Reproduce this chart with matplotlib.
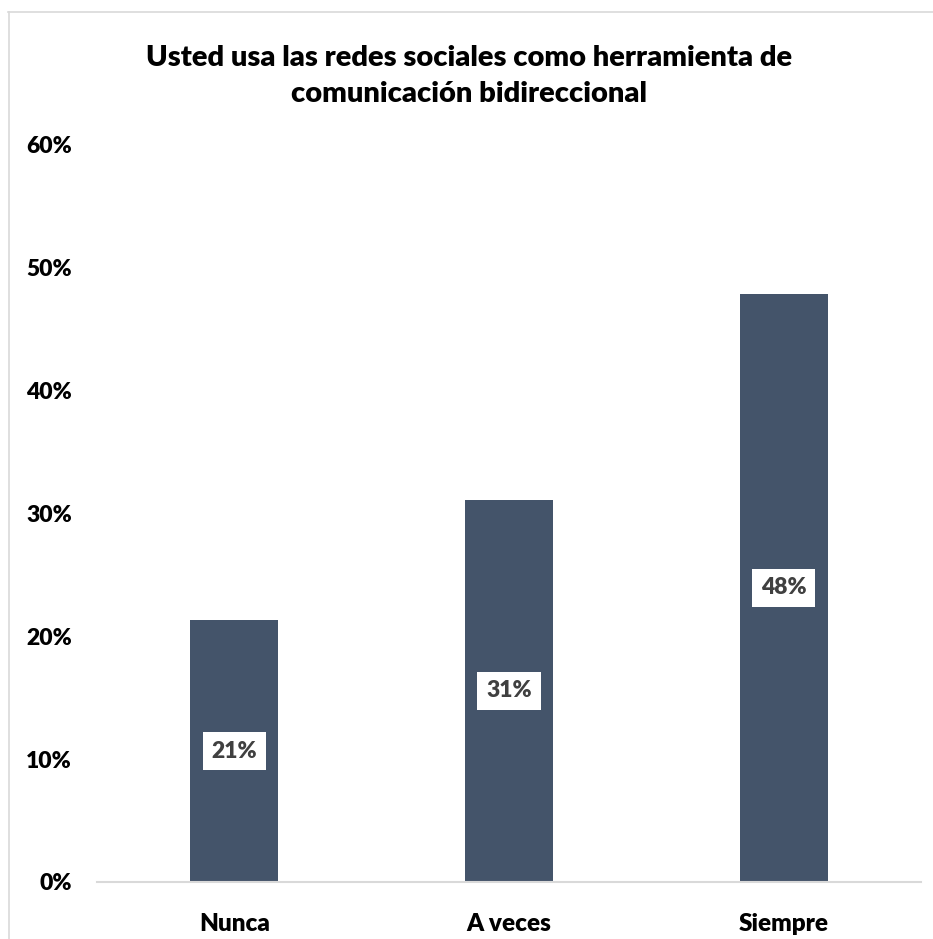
import matplotlib
matplotlib.use("Agg")
import matplotlib.pyplot as plt
from matplotlib.lines import Line2D
from matplotlib.ticker import FuncFormatter

categories = ["Nunca", "A veces", "Siempre"]
values = [21.3, 31.1, 47.9]
labels = ["21%", "31%", "48%"]
yticks = [0, 10, 20, 30, 40, 50, 60]
title = "Usted usa las redes sociales como herramienta de\ncomunicación bidireccional"

plt.rcParams['font.family'] = ['Lato', 'DejaVu Sans']
WEIGHT = "heavy"

W, H = 933, 939
fig = plt.figure(figsize=(W / 100, H / 100), dpi=100)

# axes placement in pixels: x 97..921, y 882 (0%) .. 145 (60%)
x0, x1 = 97, 921
y0, y1 = 882, 145
ax = fig.add_axes([x0 / W, 1 - y0 / H, (x1 - x0) / W, (y0 - y1) / H])

bar_color = "#44546A"
xs = list(range(len(categories)))
ax.bar(xs, values, width=0.32, color=bar_color, zorder=2)

for x, v, lab in zip(xs, values, labels):
    ax.text(x, v / 2, lab, ha="center", va="center", fontsize=16.5, fontweight=WEIGHT,
            color="#404040", zorder=3,
            bbox=dict(boxstyle="square,pad=0.38", facecolor="white", edgecolor="none"))

ax.set_xlim(-0.5, 2.5)
ax.set_ylim(0, 60)
ax.set_yticks(yticks)
ax.yaxis.set_major_formatter(FuncFormatter(lambda v, p: f"{int(v)}%"))
ax.set_xticks(xs)
ax.set_xticklabels(categories)
for lab in ax.get_yticklabels():
    lab.set_fontweight(WEIGHT)
    lab.set_fontsize(16.5)
    lab.set_color("black")
for lab in ax.get_xticklabels():
    lab.set_fontweight(WEIGHT)
    lab.set_fontsize(17.5)
    lab.set_color("black")
ax.tick_params(axis="y", length=0, pad=18)
ax.tick_params(axis="x", length=0, pad=22.5)

for s in ["left", "right", "top"]:
    ax.spines[s].set_visible(False)
ax.spines["bottom"].set_color("#D9D9D9")
ax.spines["bottom"].set_linewidth(1.5)

fig.text(469 / W, 1 - 76 / H, title, ha="center", va="center", fontsize=21,
         fontweight=WEIGHT, color="black", linespacing=1.5)

# chart border (top and left visible, rest outside the image)
fig.add_artist(Line2D([8 / W, 1.0], [1 - 11.5 / H, 1 - 11.5 / H], color="#D9D9D9", lw=1.2,
                      transform=fig.transFigure))
fig.add_artist(Line2D([8.5 / W, 8.5 / W], [0, 1 - 11.5 / H], color="#D9D9D9", lw=1.2,
                      transform=fig.transFigure))

fig.savefig("out.png", dpi=100, facecolor="white")
